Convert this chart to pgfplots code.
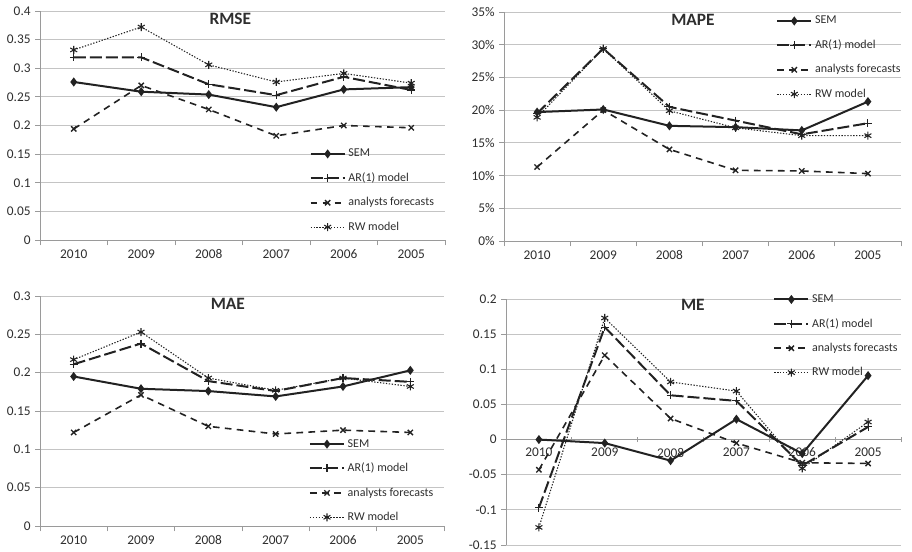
\documentclass[border=0pt]{standalone}
\usepackage{fontspec}
\setmainfont{Carlito}
\usepackage{pgfplots}
\pgfplotsset{compat=1.18}
\definecolor{gridc}{HTML}{C4C4C4}
\definecolor{axc}{HTML}{9A9A9A}
\definecolor{txt}{HTML}{2E2E2E}
\definecolor{ln}{HTML}{222222}
\tikzset{ttl/.style={font=\bfseries\fontsize{13}{13}\selectfont, text=txt}}
\pgfplotsset{
  excel/.style={
    scale only axis, anchor=south west,
    xmin=-0.5, xmax=5.5,
    xtick={0,...,5}, xticklabels={2010,2009,2008,2007,2006,2005},
    major x tick style={draw=none},
    minor xtick={-0.5,0.5,...,5.5},
    minor tick length=4pt, major tick length=3.5pt,
    tick align=outside,
    axis y line*=left,
    axis line style={-, draw=axc, line width=0.7pt},
    every outer x axis line/.append style={-},
    every outer y axis line/.append style={-},
    every inner x axis line/.append style={-},
    tick style={axc, line width=0.7pt},
    ymajorgrids, grid style={gridc, line width=0.7pt},
    tick label style={font=\fontsize{10}{10}\selectfont, text=txt},
    /pgf/number format/assume math mode=true,
    /pgf/number format/fixed,
    scaled y ticks=false,
    legend style={draw=none, fill=none, anchor=north west, inner sep=0pt,
      font=\fontsize{9}{9}\selectfont, text=txt, row sep=6.5pt, cells={anchor=west}},
    legend image code/.code={\draw[mark repeat=2,mark phase=2] plot coordinates {(0cm,0cm) (0.45cm,0cm) (0.9cm,0cm)};},
    clip=false,
  },
  sem/.style={ln, line width=1.5pt, mark=diamond*, mark size=2.2pt, mark options={solid}},
  ar/.style={ln, line width=1.5pt, dash pattern=on 9pt off 3pt, mark=+, mark size=3pt, mark options={solid, line width=0.8pt}},
  an/.style={ln, line width=1.2pt, dash pattern=on 5pt off 4pt, mark=x, mark size=2.8pt, mark options={solid, line width=1pt}},
  rw/.style={ln, line width=0.8pt, dash pattern=on 1pt off 1.2pt, mark=asterisk, mark size=3pt, mark options={solid, line width=0.8pt}},
}
\begin{document}
\begin{tikzpicture}
\useasboundingbox (0,0) rectangle (684pt,414pt);
% RMSE
\begin{axis}[excel, at={(30pt,234pt)}, width=303.75pt, height=171.75pt,
  axis x line*=bottom, ymin=0, ymax=0.4, ytick={0,0.05,...,0.4},
  legend style={at={(0.665,0.41)}}]
\addplot[sem] coordinates {(0,0.276) (1,0.259) (2,0.254) (3,0.232) (4,0.263) (5,0.267)};
\addplot[ar] coordinates {(0,0.319) (1,0.319) (2,0.272) (3,0.253) (4,0.285) (5,0.262)};
\addplot[an] coordinates {(0,0.194) (1,0.270) (2,0.228) (3,0.182) (4,0.200) (5,0.196)};
\addplot[rw] coordinates {(0,0.332) (1,0.372) (2,0.306) (3,0.276) (4,0.291) (5,0.274)};
\legend{SEM, AR(1) model, analysts forecasts, RW model}
\node[ttl] at (rel axis cs:0.47,0.965) {RMSE};
\end{axis}
% MAPE
\begin{axis}[excel, at={(378pt,233.25pt)}, width=297.75pt, height=171.75pt,
  axis x line*=bottom, ymin=0, ymax=35, ytick={0,5,...,35},
  yticklabel={\pgfmathprintnumber{\tick}\%},
  legend style={at={(0.685,0.995)}}]
\addplot[sem] coordinates {(0,19.7) (1,20.1) (2,17.6) (3,17.4) (4,16.9) (5,21.3)};
\addplot[ar] coordinates {(0,19.5) (1,29.4) (2,20.5) (3,18.4) (4,16.3) (5,18.0)};
\addplot[an] coordinates {(0,11.3) (1,20.0) (2,14.0) (3,10.8) (4,10.7) (5,10.3)};
\addplot[rw] coordinates {(0,18.9) (1,29.4) (2,19.9) (3,17.3) (4,16.1) (5,16.1)};
\legend{SEM, AR(1) model, analysts forecasts, RW model}
\node[ttl] at (rel axis cs:0.476,0.965) {MAPE};
\end{axis}
% MAE
\begin{axis}[excel, at={(30pt,19.5pt)}, width=303pt, height=172.5pt,
  axis x line*=bottom, ymin=0, ymax=0.3, ytick={0,0.05,...,0.3},
  legend style={at={(0.665,0.39)}}]
\addplot[sem] coordinates {(0,0.195) (1,0.179) (2,0.176) (3,0.169) (4,0.182) (5,0.203)};
\addplot[ar] coordinates {(0,0.211) (1,0.238) (2,0.189) (3,0.176) (4,0.193) (5,0.188)};
\addplot[an] coordinates {(0,0.122) (1,0.171) (2,0.130) (3,0.120) (4,0.125) (5,0.122)};
\addplot[rw] coordinates {(0,0.217) (1,0.253) (2,0.193) (3,0.177) (4,0.193) (5,0.182)};
\legend{SEM, AR(1) model, analysts forecasts, RW model}
\node[ttl] at (rel axis cs:0.465,0.965) {MAE};
\end{axis}
% ME
\begin{axis}[excel, at={(379.5pt,5.25pt)}, width=296.25pt, height=184.5pt,
  axis x line=middle, ymin=-0.15, ymax=0.2, ytick={-0.15,-0.1,...,0.2},
  x axis line style={-}, every inner x axis line/.append style={-},
  x tick label style={yshift=-1pt},
  legend style={at={(0.676,1.03)}}]
\addplot[sem] coordinates {(0,0) (1,-0.005) (2,-0.030) (3,0.029) (4,-0.020) (5,0.091)};
\addplot[ar] coordinates {(0,-0.097) (1,0.160) (2,0.063) (3,0.055) (4,-0.037) (5,0.018)};
\addplot[an] coordinates {(0,-0.043) (1,0.120) (2,0.030) (3,-0.005) (4,-0.033) (5,-0.034)};
\addplot[rw] coordinates {(0,-0.125) (1,0.173) (2,0.082) (3,0.069) (4,-0.041) (5,0.025)};
\legend{SEM, AR(1) model, analysts forecasts, RW model}
\node[ttl] at (rel axis cs:0.473,0.975) {ME};
\end{axis}
\end{tikzpicture}
\end{document}
